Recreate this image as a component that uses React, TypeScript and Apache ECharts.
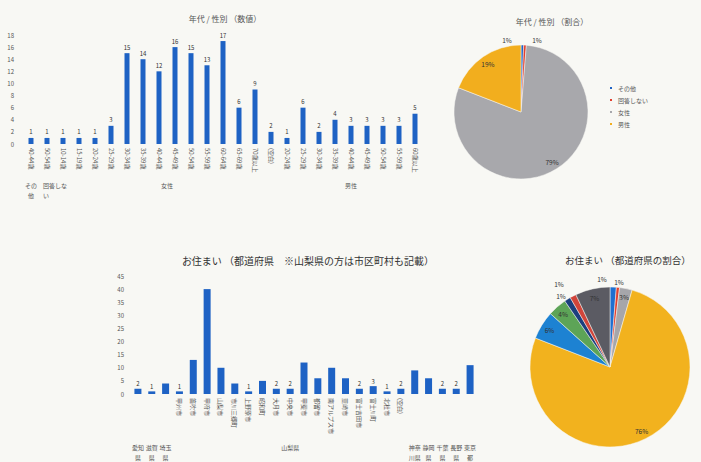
import React, { useEffect, useRef } from "react";
import * as echarts from "echarts";

// ---- 年代 / 性別 ----
const ageCategories = [
  "40-44歳", "50-54歳",
  "10-14歳", "15-19歳", "20-24歳", "25-29歳", "30-34歳", "35-39歳", "40-44歳",
  "45-49歳", "50-54歳", "55-59歳", "60-64歳", "65-69歳", "70歳以上", "(空白)",
  "20-24歳", "25-29歳", "30-34歳", "35-39歳", "40-44歳", "45-49歳", "50-54歳", "55-59歳", "60歳以上",
];
const ageCounts = [1, 1, 1, 1, 1, 3, 15, 14, 12, 16, 15, 13, 17, 6, 9, 2, 1, 6, 2, 4, 3, 3, 3, 3, 5];
const genderGroups = ["その他", "回答しない", "女性", "男性"];
const genderGroupSizes = [1, 1, 14, 9];
const genderGroupLabels = ["その\n他", "回答しな\nい", "女性", "男性"];
const genderColors = ["#1F63C4", "#E2402F", "#A8A8AC", "#F2AE1E"];

// ---- お住まい ----
const cityCategories = [
  "", "", "",
  "甲州市", "笛吹市", "甲府市", "山梨市", "市川三郷町", "上野原市", "昭和町", "大月市", "中央市",
  "甲斐市", "都留市", "南アルプス市", "韮崎市", "富士吉田市", "富士川町", "北杜市", "(空白)",
  "", "", "", "", "",
];
const residenceCounts = [2, 1, 4, 1, 13, 40, 10, 4, 1, 5, 2, 2, 12, 6, 10, 6, 2, 3, 1, 2, 9, 6, 2, 2, 11];
const prefectures = ["愛知県", "滋賀県", "埼玉県", "山梨県", "神奈川県", "静岡県", "千葉県", "長野県", "東京都"];
const prefectureGroupSizes = [1, 1, 1, 17, 1, 1, 1, 1, 1];
const prefectureGroupLabels = ["愛知\n県", "滋賀\n県", "埼玉\n県", "山梨県", "神奈\n川県", "静岡\n県", "千葉\n県", "長野\n県", "東京\n都"];
const prefectureColors = ["#1F6FD0", "#E2402F", "#A6A6AA", "#F2B21E", "#1D82D2", "#5DA457", "#1C3F7E", "#D1453B", "#5B5B63"];

const FONT = "'Noto Sans CJK JP', 'Noto Sans', sans-serif";
const BAR = "#1E62C4";

function groupSums(values: number[], sizes: number[]) {
  const out: number[] = [];
  let i = 0;
  for (const s of sizes) {
    let t = 0;
    for (let k = 0; k < s; k++) t += values[i + k];
    out.push(t);
    i += s;
  }
  return out;
}

export default function App() {
  const ref = useRef<HTMLDivElement>(null);
  useEffect(() => {
    if (!ref.current) return;
    const chart = echarts.init(ref.current, undefined, { renderer: "svg" });

    const genderSums = groupSums(ageCounts, genderGroupSizes);
    const prefSums = groupSums(residenceCounts, prefectureGroupSizes);

    const genderPieData = genderGroups.map((n, i) => ({ name: n, value: genderSums[i], itemStyle: { color: genderColors[i] } }));
    const prefPieData = prefectures.map((n, i) => ({ name: n, value: prefSums[i], itemStyle: { color: prefectureColors[i] } }));

    // small-slice label anchor points (label placement only)
    const topSmallPos: Record<number, number[]> = { 0: [507, 40], 1: [537, 40] };
    const bottomSmallPos: Record<number, number[]> = { 0: [602, 279], 1: [619, 282], 6: [561, 296], 7: [559, 284] };

    const labelData = (data: any[], small: Record<number, number[]>) =>
      data.map((d, i) => ({
        name: d.name,
        value: d.value,
        itemStyle: { color: "rgba(0,0,0,0)" },
        label: small[i] ? { position: "outside" } : { position: "inside" },
      }));

    const placeSmall = (small: Record<number, number[]>) => (p: any) => {
      const pos = small[p.dataIndex];
      if (!pos) return {};
      return { x: pos[0], y: pos[1], align: "center", verticalAlign: "middle" };
    };

    const axisLabelStyle = { fontSize: 6, color: "#555", fontFamily: FONT };

    const option: any = {
      animation: false,
      backgroundColor: "#f8f8f4",
      textStyle: { fontFamily: FONT },
      title: [
        { text: "年代 / 性別 （数値）", left: 220, top: 9, textAlign: "center", textStyle: { fontSize: 8, color: "#555", fontWeight: "normal", fontFamily: FONT } },
        { text: "年代 / 性別 （割合）", left: 547, top: 12, textAlign: "center", textStyle: { fontSize: 8, color: "#555", fontWeight: "normal", fontFamily: FONT } },
        { text: "お住まい （都道府県　※山梨県の方は市区町村も記載）", left: 303, top: 250, textAlign: "center", textStyle: { fontSize: 10, color: "#333", fontWeight: "normal", fontFamily: FONT } },
        { text: "お住まい （都道府県の割合）", left: 560, top: 250, textStyle: { fontSize: 9.5, color: "#333", fontWeight: "normal", fontFamily: FONT } },
      ],
      legend: {
        orient: "vertical",
        left: 603,
        top: 80,
        icon: "rect",
        itemWidth: 4,
        itemHeight: 4,
        itemGap: 6,
        data: genderGroups,
        textStyle: { fontSize: 6, color: "#555", fontFamily: FONT },
      },
      grid: [
        { left: 23, top: 35, width: 400, height: 109 },
        { left: 131, top: 276, width: 346, height: 118 },
      ],
      xAxis: [
        {
          type: "category", gridIndex: 0, data: ageCategories,
          axisLine: { show: false }, axisTick: { show: false },
          axisLabel: { ...axisLabelStyle, rotate: -90, interval: 0, margin: 4 },
        },
        {
          type: "category", gridIndex: 1, data: cityCategories,
          axisLine: { show: false }, axisTick: { show: false },
          axisLabel: { ...axisLabelStyle, rotate: -90, interval: 0, margin: 4 },
        },
      ],
      yAxis: [
        {
          type: "value", gridIndex: 0, min: 0, max: 18, interval: 2,
          splitLine: { show: false }, axisLine: { show: false }, axisTick: { show: false },
          axisLabel: { ...axisLabelStyle, margin: 9 },
        },
        {
          type: "value", gridIndex: 1, min: 0, max: 45, interval: 5,
          splitLine: { show: false }, axisLine: { show: false }, axisTick: { show: false },
          axisLabel: { ...axisLabelStyle, margin: 7 },
        },
      ],
      series: [
        {
          type: "bar", xAxisIndex: 0, yAxisIndex: 0, data: ageCounts, barWidth: 5,
          itemStyle: { color: BAR },
          label: { show: true, position: "top", distance: 3, fontSize: 6, color: "#333", fontFamily: FONT },
        },
        {
          type: "bar", xAxisIndex: 1, yAxisIndex: 1, data: residenceCounts, barWidth: 7,
          itemStyle: { color: BAR },
          label: {
            show: true, position: "top", distance: 2, fontSize: 6, color: "#333", fontFamily: FONT,
            formatter: (p: any) => (p.value <= 3 ? String(p.value) : ""),
          },
        },
        {
          type: "pie", center: [521, 112], radius: 67, startAngle: 90, clockwise: true,
          data: genderPieData, label: { show: false }, labelLine: { show: false },
          itemStyle: { borderColor: "#f8f8f4", borderWidth: 0.5 }, silent: true,
        },
        {
          type: "pie", center: [521, 112], radius: [44, 67], startAngle: 90, clockwise: true,
          data: labelData(genderPieData, topSmallPos), silent: true, avoidLabelOverlap: false,
          percentPrecision: 0,
          label: { show: true, formatter: "{d}%", fontSize: 6.5, color: "#333", fontFamily: FONT },
          labelLine: { show: false, length: 2, length2: 2 },
          labelLayout: placeSmall(topSmallPos),
        },
        {
          type: "pie", center: [610, 367], radius: 80, startAngle: 90, clockwise: true,
          data: prefPieData, label: { show: false }, labelLine: { show: false },
          itemStyle: { borderColor: "#f8f8f4", borderWidth: 0.5 }, silent: true,
        },
        {
          type: "pie", center: [610, 367], radius: [56, 80], startAngle: 90, clockwise: true,
          data: labelData(prefPieData, bottomSmallPos), silent: true, avoidLabelOverlap: false,
          percentPrecision: 0,
          label: { show: true, formatter: "{d}%", fontSize: 6.5, color: "#333", fontFamily: FONT },
          labelLine: { show: false, length: 2, length2: 2 },
          labelLayout: placeSmall(bottomSmallPos),
        },
      ],
    };
    chart.setOption(option);

    const makeGroupTexts = (axisIndex: number, sizes: number[], labels: string[], y: number, aligns: string[]) => {
      const out: any[] = [];
      let i = 0;
      sizes.forEach((s, g) => {
        const a = chart.convertToPixel({ xAxisIndex: axisIndex } as any, i) as any;
        const b = chart.convertToPixel({ xAxisIndex: axisIndex } as any, i + s - 1) as any;
        const xa = Array.isArray(a) ? a[0] : a;
        const xb = Array.isArray(b) ? b[0] : b;
        const align = aligns[g] || "center";
        out.push({
          type: "text",
          x: align === "left" ? xa - 4 : (xa + xb) / 2,
          y,
          style: { text: labels[g], textAlign: align, fontSize: 6, lineHeight: 10, fill: "#555", fontFamily: FONT },
          silent: true,
        });
        i += s;
      });
      return out;
    };

    chart.setOption({
      graphic: [
        ...makeGroupTexts(0, genderGroupSizes, genderGroupLabels, 180, ["center", "left", "center", "center"]),
        ...makeGroupTexts(1, prefectureGroupSizes, prefectureGroupLabels, 442, []),
      ],
    });

    return () => chart.dispose();
  }, []);
  return <div ref={ref} style={{ position: "fixed", left: 0, top: 0, width: 701, height: 462 }} />;
}
